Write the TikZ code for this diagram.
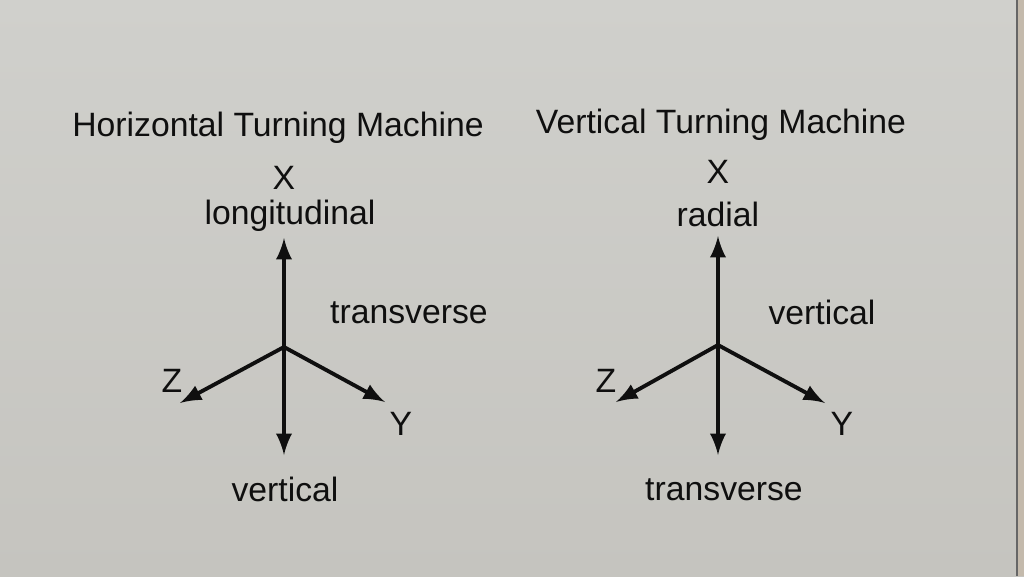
\documentclass[tikz,border=0pt]{standalone}
\usepackage{fontspec}
\setmainfont{Liberation Sans}
\usetikzlibrary{arrows}

\definecolor{board}{RGB}{197,196,191}
\definecolor{boardtop}{RGB}{208,208,204}
\definecolor{ink}{RGB}{15,15,15}

\begin{document}
\begin{tikzpicture}[
    lbl/.style={inner sep=0pt,text=ink,font=\fontsize{9.6}{11}\selectfont},
    axis/.style={draw=ink,line width=1.1pt,-latex}
  ]

  % board
  \useasboundingbox (0,0) rectangle (10.24,5.76);
  \shade[top color=boardtop,bottom color=board] (0,0) rectangle (10.24,5.76);
  \fill[board!85!brown] (10.17,0) rectangle (10.24,5.76);
  \draw[black!60,line width=0.6pt] (10.17,0) -- (10.17,5.76);

  % horizontal turning machine
  \node[lbl] (T1) at (2.78,4.48) {Horizontal Turning Machine};
  \node[lbl] (X1) at (2.84,3.98) {X};
  \node[lbl] (L1) at (2.90,3.60) {longitudinal};
  \node[lbl] (R1) at (4.09,2.63) {transverse};
  \node[lbl] (Z1) at (1.72,1.95) {Z};
  \node[lbl] (Y1) at (4.01,1.52) {Y};
  \node[lbl] (V1) at (2.85,0.87) {vertical};

  \coordinate (O1) at (2.84,2.29);
  \coordinate (U1) at (2.84,3.38);
  \coordinate (D1) at (2.84,1.21);
  \coordinate (ZZ1) at (1.80,1.73);
  \coordinate (YY1) at (3.85,1.74);

  \draw[axis] (O1) -- (U1);
  \draw[axis] (O1) -- (D1);
  \draw[axis] (O1) -- (ZZ1);
  \draw[axis] (O1) -- (YY1);

  % vertical turning machine
  \node[lbl] (T2) at (7.21,4.51) {Vertical Turning Machine};
  \node[lbl] (X2) at (7.18,4.04) {X};
  \node[lbl] (L2) at (7.18,3.62) {radial};
  \node[lbl] (R2) at (8.22,2.64) {vertical};
  \node[lbl] (Z2) at (6.06,1.95) {Z};
  \node[lbl] (Y2) at (8.42,1.52) {Y};
  \node[lbl] (V2) at (7.24,0.86) {transverse};

  \coordinate (O2) at (7.18,2.31);
  \coordinate (U2) at (7.18,3.40);
  \coordinate (D2) at (7.18,1.21);
  \coordinate (ZZ2) at (6.16,1.74);
  \coordinate (YY2) at (8.25,1.73);

  \draw[axis] (O2) -- (U2);
  \draw[axis] (O2) -- (D2);
  \draw[axis] (O2) -- (ZZ2);
  \draw[axis] (O2) -- (YY2);

\end{tikzpicture}
\end{document}
